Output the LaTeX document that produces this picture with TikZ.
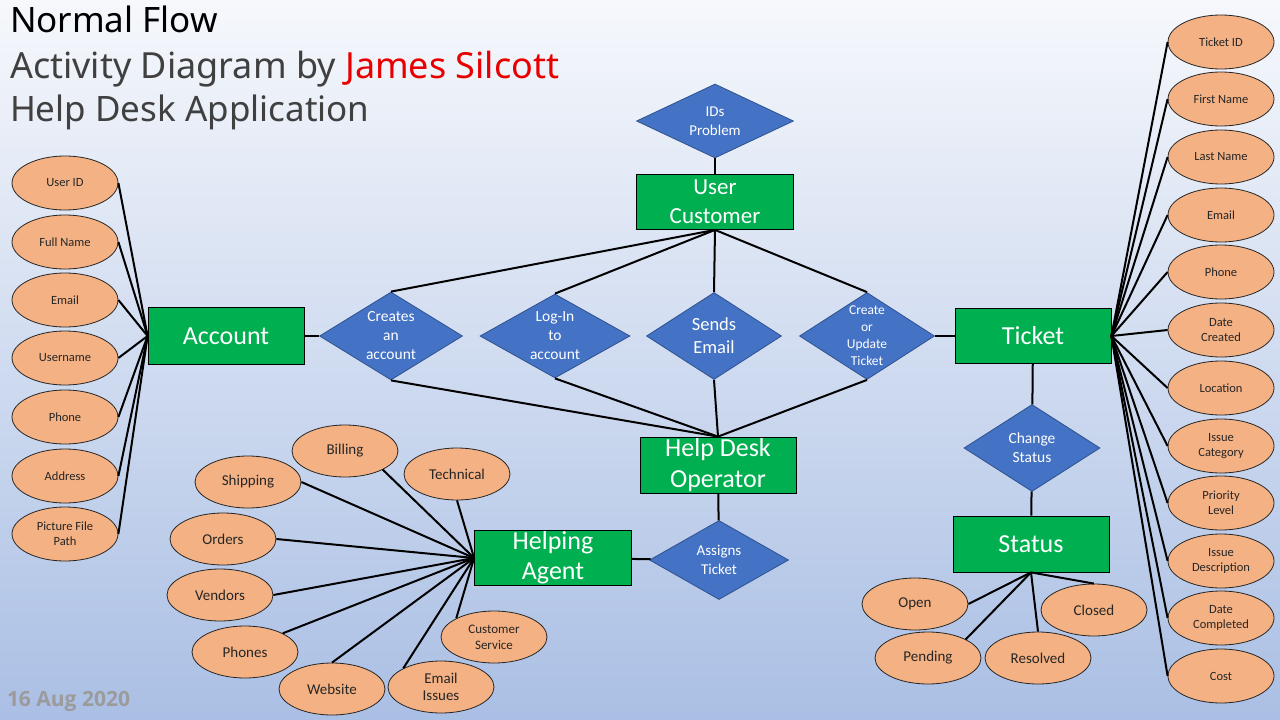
\documentclass[tikz,border=0pt]{standalone}
\usepackage{fontspec}
\setmainfont{Carlito}
\newfontfamily\titlefont{Noto Sans}
\newfontfamily\datefont{Open Sans}
\usetikzlibrary{shapes.geometric}
\definecolor{entgreen}{RGB}{0,176,80}
\definecolor{relblue}{RGB}{68,114,196}
\definecolor{relborder}{RGB}{47,82,143}
\definecolor{attrorange}{RGB}{244,177,131}
\definecolor{bgtop}{RGB}{246,248,252}
\definecolor{bgbottom}{RGB}{170,191,228}
\definecolor{titlegrey}{RGB}{64,64,64}
\definecolor{namered}{RGB}{232,0,0}
\definecolor{dategrey}{RGB}{155,155,155}

\begin{document}
\begin{tikzpicture}[-,x=1pt,y=-1pt,line width=2pt,
    entity node/.style={rectangle,draw=black,line width=0.8pt,fill=entgreen,text=white,align=center,inner sep=0pt,minimum width=156pt,minimum height=56pt,font=\fontsize{26}{31}\selectfont},
    relation node/.style={diamond,aspect=1.6,draw=relborder,line width=0.8pt,fill=relblue,text=white,align=center,inner sep=0pt,font=\fontsize{15.5}{19}\selectfont},
    attr node/.style={ellipse,draw=black!85,line width=0.8pt,fill=attrorange,text=black!85,align=center,inner sep=0pt,minimum width=106pt,minimum height=54pt,font=\fontsize{12.5}{15}\selectfont},
    title text/.style={anchor=base west,inner sep=0pt,font=\titlefont\fontsize{35}{40}\selectfont}]
                \shade[top color=bgtop,bottom color=bgbottom] (0,0) rectangle (1280,720);
                \useasboundingbox (0,0) rectangle (1280,720);

                \node[title text] (flow) at (9,32) {Normal Flow};
                \node[title text,text=titlegrey,font=\titlefont\fontsize{36}{40}\selectfont] (byline) at (9,78) {Activity Diagram by \textcolor{namered}{James Silcott}};
                \node[title text,text=titlegrey] (app) at (9,121) {Help Desk Application};
                \node[anchor=base west,inner sep=0pt,text=dategrey,font=\datefont\bfseries\fontsize{21}{24}\selectfont] (date) at (6,706) {16 Aug 2020};

                \node[entity node,minimum width=157pt,minimum height=55pt,font=\fontsize{23}{29}\selectfont] (uc) at (715,202) {User\\Customer};
                \node[entity node,minimum height=57pt] (acc) at (226,336) {Account};
                \node[entity node,minimum height=55pt] (tkt) at (1033,336) {Ticket};
                \node[entity node] (hdo) at (718,465) {Help Desk\\Operator};
                \node[entity node,minimum width=157pt,minimum height=55pt,font=\fontsize{26}{30}\selectfont] (agent) at (553,558) {Helping\\Agent};
                \node[entity node] (stat) at (1031,544) {Status};

                \node[relation node,minimum width=157pt,minimum height=74pt,font=\fontsize{15}{19}\selectfont] (ids) at (715,121) {IDs\\Problem};
                \node[relation node,minimum width=143pt,minimum height=88pt] (cre) at (391,336) {Creates\\an\\account};
                \node[relation node,minimum width=150pt,minimum height=84pt] (log) at (555,336) {Log-In\\to\\account};
                \node[relation node,minimum width=135pt,minimum height=87pt,font=\fontsize{18.5}{23}\selectfont] (sen) at (714,336) {Sends\\Email};
                \node[relation node,minimum width=135pt,minimum height=87pt,inner sep=-3pt,font=\fontsize{13.5}{17}\selectfont] (upd) at (867,336) {Create\\or\\Update\\Ticket};
                \node[relation node,minimum width=136pt,minimum height=87pt] (chg) at (1032,448) {Change\\Status};
                \node[relation node,minimum width=139pt,minimum height=79pt,font=\fontsize{15}{19}\selectfont] (asg) at (719,560) {Assigns\\Ticket};

                \node[attr node] (uid) at (65,183) {User ID};
                \node[attr node] (fullname) at (65,242) {Full Name};
                \node[attr node] (aemail) at (65,300) {Email};
                \node[attr node] (uname) at (65,358) {Username};
                \node[attr node] (aphone) at (65,417) {Phone};
                \node[attr node] (address) at (65,476) {Address};
                \node[attr node] (picture) at (65,534) {Picture File\\Path};

                \node[attr node] (tid) at (1221,42) {Ticket ID};
                \node[attr node] (first) at (1221,99) {First Name};
                \node[attr node] (last) at (1221,157) {Last Name};
                \node[attr node] (temail) at (1221,215) {Email};
                \node[attr node] (tphone) at (1221,272) {Phone};
                \node[attr node] (created) at (1221,330) {Date\\Created};
                \node[attr node] (location) at (1221,388) {Location};
                \node[attr node] (category) at (1221,446) {Issue\\Category};
                \node[attr node] (priority) at (1221,503) {Priority\\Level};
                \node[attr node] (description) at (1221,561) {Issue\\Description};
                \node[attr node] (completed) at (1221,618) {Date\\Completed};
                \node[attr node] (cost) at (1221,676) {Cost};

                \node[attr node,minimum height=52pt,font=\fontsize{15}{17}\selectfont] (billing) at (345,451) {Billing};
                \node[attr node,minimum height=52pt,font=\fontsize{15}{17}\selectfont] (technical) at (457,474) {Technical};
                \node[attr node,minimum height=52pt,font=\fontsize{15}{17}\selectfont] (shipping) at (248,482) {Shipping};
                \node[attr node,minimum height=52pt,font=\fontsize{15}{17}\selectfont] (orders) at (223,539) {Orders};
                \node[attr node,minimum height=52pt,font=\fontsize{15}{17}\selectfont] (vendors) at (220,595) {Vendors};
                \node[attr node,minimum height=52pt,font=\fontsize{15}{17}\selectfont] (phones) at (245,652) {Phones};
                \node[attr node,minimum height=52pt,font=\fontsize{15}{17}\selectfont] (website) at (332,689) {Website};
                \node[attr node,minimum height=52pt,font=\fontsize{15}{17}\selectfont] (emailiss) at (441,687) {Email\\Issues};
                \node[attr node,minimum height=52pt,font=\fontsize{13}{16}\selectfont] (custserv) at (494,637) {Customer\\Service};

                \node[attr node,minimum height=52pt,font=\fontsize{15}{17}\selectfont] (open) at (915,604) {Open};
                \node[attr node,minimum height=52pt,font=\fontsize{15}{17}\selectfont] (closed) at (1094,610) {Closed};
                \node[attr node,minimum height=52pt,font=\fontsize{15}{17}\selectfont] (pending) at (928,658) {Pending};
                \node[attr node,minimum height=52pt,font=\fontsize{15}{17}\selectfont] (resolved) at (1038,658) {Resolved};

                \path
                    (ids) edge (uc)
                    (uc.south) edge (cre.north)
                    (uc.south) edge (log.north)
                    (uc.south) edge (sen.north)
                    (uc.south) edge (upd.north)
                    (acc) edge (cre)
                    (upd) edge (tkt)
                    (hdo.north) edge (cre.south)
                    (hdo.north) edge (log.south)
                    (hdo.north) edge (sen.south)
                    (hdo.north) edge (upd.south)
                    (hdo) edge (asg)
                    (asg) edge (agent)
                    (tkt) edge (chg)
                    (chg) edge (stat)
                    ;

                \path
                    (uid.east) edge (acc.west)
                    (fullname.east) edge (acc.west)
                    (aemail.east) edge (acc.west)
                    (uname.east) edge (acc.west)
                    (aphone.east) edge (acc.west)
                    (address.east) edge (acc.west)
                    (picture.east) edge (acc.west)
                    ;

                \path
                    (tkt.east) edge (tid.west)
                    (tkt.east) edge (first.west)
                    (tkt.east) edge (last.west)
                    (tkt.east) edge (temail.west)
                    (tkt.east) edge (tphone.west)
                    (tkt.east) edge (created.west)
                    (tkt.east) edge (location.west)
                    (tkt.east) edge (category.west)
                    (tkt.east) edge (priority.west)
                    (tkt.east) edge (description.west)
                    (tkt.east) edge (completed.west)
                    (tkt.east) edge (cost.west)
                    ;

                \path
                    (billing.south east) edge (agent.west)
                    (technical.south) edge (agent.west)
                    (shipping.east) edge (agent.west)
                    (orders.east) edge (agent.west)
                    (vendors.east) edge (agent.west)
                    (phones.north east) edge (agent.west)
                    (website.north) edge (agent.west)
                    (emailiss.north west) edge (agent.west)
                    (custserv.north west) edge (agent.west)
                    ;

                \path
                    (stat.south) edge (open.east)
                    (stat.south) edge (closed.north)
                    (stat.south) edge (pending.north east)
                    (stat.south) edge (resolved.north)
                    ;
            \end{tikzpicture}
\end{document}
